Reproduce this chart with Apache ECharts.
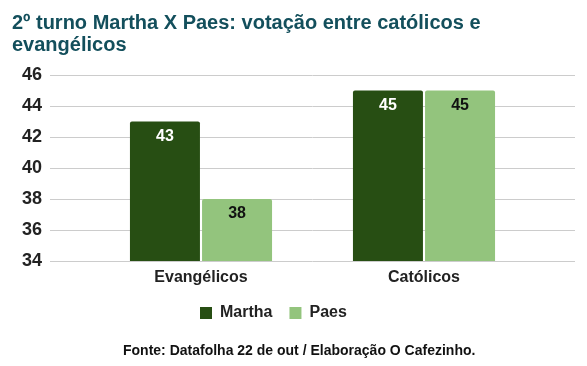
<!DOCTYPE html>
<html><head><meta charset="utf-8">
<script src="https://cdn.jsdelivr.net/npm/echarts@6/dist/echarts.min.js"></script>
<style>html,body{margin:0;padding:0;background:#fff}#c{width:587px;height:366px}</style>
</head><body><div id="c"></div>
<script>
const categories = ['Evangélicos', 'Católicos'];
const martha = [43, 45];
const paes = [38, 45];
const seriesNames = ['Martha', 'Paes'];
const yMin = 34, yMax = 46, yStep = 2;

const font = '"Liberation Sans", Arial, sans-serif';
const chart = echarts.init(document.getElementById('c'));
chart.setOption({
  animation: false,
  textStyle: { fontFamily: font },
  title: {
    text: '2º turno Martha X Paes: votação entre católicos e\nevangélicos',
    left: 7, top: 7,
    textStyle: { color: '#134f5c', fontSize: 20, fontWeight: 'bold', lineHeight: 22, fontFamily: font }
  },
  legend: {
    bottom: 40, left: 195,
    itemWidth: 12, itemHeight: 12, itemGap: 17,
    icon: 'rect',
    textStyle: { fontSize: 16, fontWeight: 'bold', color: '#222', fontFamily: font, padding: [0, 0, 0, 3] },
    data: seriesNames
  },
  graphic: [{
    type: 'text', left: 123, top: 344,
    style: { text: 'Fonte: Datafolha 22 de out / Elaboração O Cafezinho.', font: 'bold 14px ' + font, fill: '#111' }
  }],
  grid: [
    { left: 50, right: 12, top: 75, bottom: 105, containLabel: false },
    { left: 89.5, right: 51.5, top: 75, bottom: 105, containLabel: false }
  ],
  xAxis: [
    { gridIndex: 0, type: 'category', data: categories, show: false },
    { gridIndex: 1, type: 'category', data: categories,
      axisLine: { show: false }, axisTick: { show: false },
      axisLabel: { fontSize: 16, fontWeight: 'bold', color: '#222', margin: 9, fontFamily: font } }
  ],
  yAxis: [
    { gridIndex: 0, type: 'value', min: yMin, max: yMax, interval: yStep,
      axisLine: { show: false }, axisTick: { show: false },
      splitLine: { lineStyle: { color: '#cccccc', width: 1 } },
      axisLabel: { fontSize: 18, fontWeight: 'bold', color: '#222', margin: 8, fontFamily: font } },
    { gridIndex: 1, type: 'value', min: yMin, max: yMax, interval: yStep, show: false, splitLine: { show: false } }
  ],
  series: [
    { name: seriesNames[0], type: 'bar', xAxisIndex: 1, yAxisIndex: 1, data: martha,
      barWidth: 70, barGap: '3%',
      itemStyle: { color: '#274e13', borderRadius: [2, 2, 0, 0] },
      label: { show: true, position: 'insideTop', distance: 7, color: '#fff', fontSize: 16, fontWeight: 'bold', fontFamily: font } },
    { name: seriesNames[1], type: 'bar', xAxisIndex: 1, yAxisIndex: 1, data: paes,
      barWidth: 70, barGap: '3%',
      itemStyle: { color: '#93c47d', borderRadius: [2, 2, 0, 0] },
      label: { show: true, position: 'insideTop', distance: 7, color: '#111', fontSize: 16, fontWeight: 'bold', fontFamily: font } }
  ]
});
</script></body></html>
